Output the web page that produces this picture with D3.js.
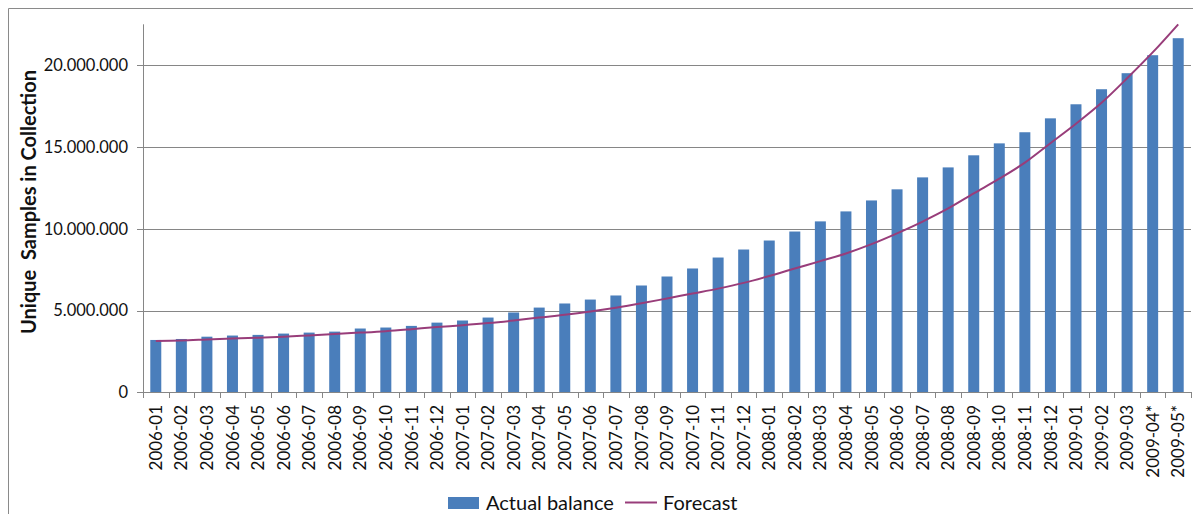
<!DOCTYPE html>
<html>
<head>
<meta charset="utf-8">
<script src="https://cdn.jsdelivr.net/npm/d3@7"></script>
<style>
  body { margin: 0; background: #fff; }
  svg { display: block; font-family: Lato, "Open Sans", sans-serif; }
</style>
</head>
<body>
<svg id="chart" width="1193" height="514"></svg>
<script>
// months on the x axis
const months = [
  "2006-01","2006-02","2006-03","2006-04","2006-05","2006-06","2006-07","2006-08","2006-09","2006-10","2006-11","2006-12",
  "2007-01","2007-02","2007-03","2007-04","2007-05","2007-06","2007-07","2007-08","2007-09","2007-10","2007-11","2007-12",
  "2008-01","2008-02","2008-03","2008-04","2008-05","2008-06","2008-07","2008-08","2008-09","2008-10","2008-11","2008-12",
  "2009-01","2009-02","2009-03","2009-04*","2009-05*"
];

// actual balance (unique samples)
const actual = [
  3200000, 3260000, 3400000, 3470000, 3510000, 3590000, 3650000, 3710000, 3900000, 3960000, 4060000, 4260000,
  4390000, 4570000, 4880000, 5180000, 5430000, 5670000, 5920000, 6530000, 7080000, 7570000, 8240000, 8730000,
  9280000, 9830000, 10450000, 11060000, 11730000, 12410000, 13140000, 13750000, 14490000, 15220000, 15900000, 16750000,
  17610000, 18530000, 19510000, 20610000, 21650000
];

// forecast trend line
const forecast = [
  3140000, 3170000, 3230000, 3290000, 3340000, 3400000, 3480000, 3570000, 3650000, 3740000, 3860000, 3990000,
  4100000, 4230000, 4390000, 4570000, 4740000, 4940000, 5170000, 5440000, 5740000, 6040000, 6340000, 6690000,
  7110000, 7570000, 8020000, 8490000, 9060000, 9720000, 10440000, 11240000, 12160000, 13060000, 14040000, 15230000,
  16420000, 17700000, 19200000, 20780000, 22500000
];

const yTicks = [0, 5000000, 10000000, 15000000, 20000000];

const svg = d3.select("#chart");
const plotL = 143, plotR = 1191, plotT = 24.3, plotB = 392.3;
const gridColor = "#868686";

const fmt = d3.formatLocale({ decimal: ",", thousands: ".", grouping: [3], currency: ["", ""] }).format(",d");

const x = d3.scaleBand().domain(months).range([plotL, plotR]).paddingInner(0).paddingOuter(0);
const y = d3.scaleLinear().domain([0, 22500000]).range([plotB, plotT]);

// outer chart frame (top + left visible)
svg.append("path")
  .attr("d", "M8.5,514 L8.5,8.5 L1193,8.5")
  .attr("fill", "none")
  .attr("stroke", "#8a8a8a")
  .attr("stroke-width", 1);

// gridlines
svg.append("g")
  .selectAll("line")
  .data(yTicks.filter(d => d > 0))
  .enter().append("line")
  .attr("x1", plotL).attr("x2", plotR)
  .attr("y1", d => Math.round(y(d)) + 0.5)
  .attr("y2", d => Math.round(y(d)) + 0.5)
  .attr("stroke", gridColor);

// bars
const barW = x.bandwidth() * 0.43;
svg.append("g")
  .selectAll("rect")
  .data(actual)
  .enter().append("rect")
  .attr("x", (d, i) => x(months[i]) + (x.bandwidth() - barW) / 2)
  .attr("width", barW)
  .attr("y", d => y(d))
  .attr("height", d => y(0) - y(d))
  .attr("fill", "#4a7ebb");

// y axis
const yAxis = svg.append("g");
yAxis.append("line")
  .attr("x1", plotL + 0.5).attr("x2", plotL + 0.5)
  .attr("y1", plotT).attr("y2", plotB)
  .attr("stroke", gridColor);
yAxis.selectAll("line.tick")
  .data(yTicks)
  .enter().append("line")
  .attr("class", "tick")
  .attr("x1", plotL - 6).attr("x2", plotL)
  .attr("y1", d => Math.round(y(d)) + 0.5)
  .attr("y2", d => Math.round(y(d)) + 0.5)
  .attr("stroke", gridColor);
yAxis.selectAll("text")
  .data(yTicks)
  .enter().append("text")
  .attr("x", 128)
  .attr("y", d => y(d))
  .attr("dy", "0.36em")
  .attr("text-anchor", "end")
  .attr("font-size", 16.5)
  .attr("fill", "#111")
  .text(d => fmt(d));

// x axis
const xAxis = svg.append("g");
xAxis.append("line")
  .attr("x1", plotL).attr("x2", plotR)
  .attr("y1", Math.round(plotB) + 0.5).attr("y2", Math.round(plotB) + 0.5)
  .attr("stroke", gridColor);
const edges = months.map(m => x(m)).concat([plotR]);
xAxis.selectAll("line.tick")
  .data(edges)
  .enter().append("line")
  .attr("class", "tick")
  .attr("x1", d => Math.round(d) + 0.5).attr("x2", d => Math.round(d) + 0.5)
  .attr("y1", Math.round(plotB)).attr("y2", Math.round(plotB) + 6)
  .attr("stroke", gridColor);
xAxis.selectAll("text")
  .data(months)
  .enter().append("text")
  .attr("transform", d => "translate(" + (x(d) + x.bandwidth() / 2) + ",405) rotate(-90)")
  .attr("dy", "0.36em")
  .attr("text-anchor", "end")
  .attr("font-size", 17)
  .attr("fill", "#111")
  .text(d => d);

// forecast line
const line = d3.line()
  .x((d, i) => x(months[i]) + x.bandwidth() / 2)
  .y(d => y(d))
  .curve(d3.curveCatmullRom);
svg.append("path")
  .datum(forecast)
  .attr("d", line)
  .attr("fill", "none")
  .attr("stroke", "#983d7a")
  .attr("stroke-width", 2);

// y axis title
svg.append("text")
  .attr("transform", "translate(29,202) rotate(-90)")
  .attr("dy", "0.36em")
  .attr("text-anchor", "middle")
  .attr("font-size", 20)
  .attr("font-weight", "bold")
  .attr("fill", "#111")
  .attr("xml:space", "preserve")
  .text("Unique  Samples in Collection");

// legend
const legend = svg.append("g");
legend.append("rect")
  .attr("x", 448).attr("y", 497).attr("width", 31).attr("height", 12)
  .attr("fill", "#4a7ebb");
legend.append("text")
  .attr("x", 486).attr("y", 510)
  .attr("font-size", 20)
  .attr("fill", "#111")
  .text("Actual balance");
legend.append("line")
  .attr("x1", 625).attr("x2", 657).attr("y1", 502.5).attr("y2", 502.5)
  .attr("stroke", "#983d7a").attr("stroke-width", 2);
legend.append("text")
  .attr("x", 663).attr("y", 510)
  .attr("font-size", 20)
  .attr("fill", "#111")
  .text("Forecast");
</script>
</body>
</html>
